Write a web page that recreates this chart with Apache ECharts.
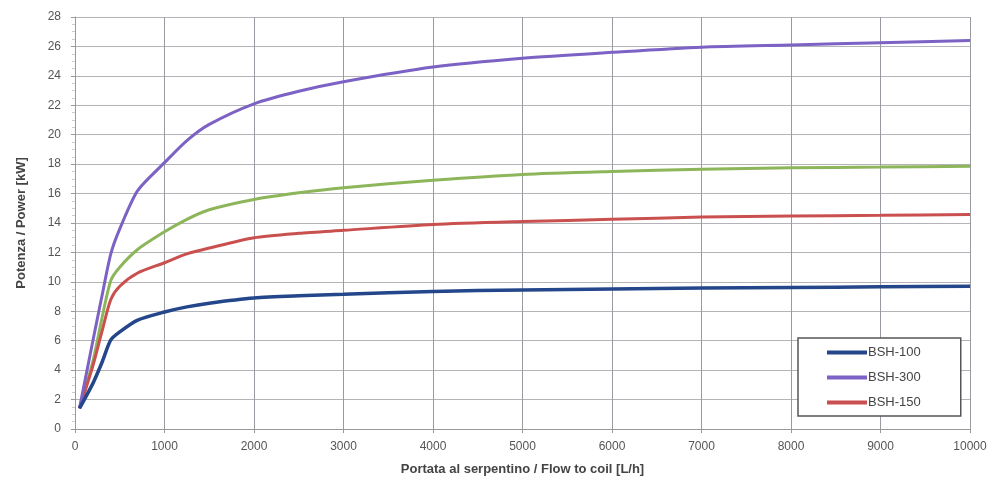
<!DOCTYPE html>
<html>
<head>
<meta charset="utf-8">
<script src="https://cdn.jsdelivr.net/npm/echarts@6/dist/echarts.min.js"></script>
<style>html,body{margin:0;padding:0;background:#fff;}#c{width:999px;height:498px;}</style>
</head>
<body>
<div id="c"></div>
<script>
var flow = [50, 200, 300, 400, 500, 700, 1000, 1250, 1500, 2000, 2500, 3000, 4000, 5000, 6000, 7000, 8000, 9000, 10000];
var bsh100 = [1.4, 3.1, 4.5, 6.05, 6.6, 7.4, 7.95, 8.3, 8.55, 8.9, 9.05, 9.15, 9.35, 9.45, 9.52, 9.58, 9.62, 9.66, 9.7];
var bsh300 = [1.4, 6.0, 9.0, 11.9, 13.6, 16.2, 18.1, 19.6, 20.7, 22.1, 22.95, 23.6, 24.6, 25.2, 25.6, 25.95, 26.1, 26.25, 26.4];
var bsh150 = [1.4, 4.3, 6.6, 8.8, 9.7, 10.6, 11.3, 11.9, 12.3, 13.0, 13.3, 13.5, 13.9, 14.1, 14.25, 14.4, 14.48, 14.52, 14.58];
var bsh200 = [1.4, 4.6, 7.5, 10.1, 11.0, 12.2, 13.4, 14.25, 14.9, 15.6, 16.05, 16.4, 16.9, 17.3, 17.5, 17.65, 17.75, 17.8, 17.85];
var yTicks = [0, 2, 4, 6, 8, 10, 12, 14, 16, 18, 20, 22, 24, 26, 28];
var xTicks = [0, 1000, 2000, 3000, 4000, 5000, 6000, 7000, 8000, 9000, 10000];

function pairs(ys) { return flow.map(function (x, i) { return [x, ys[i]]; }); }
var font = '"Liberation Sans Narrow", "Liberation Sans", Arial, sans-serif';

var chart = echarts.init(document.getElementById('c'), null, {renderer: 'canvas'});
chart.setOption({
  backgroundColor: '#ffffff',
  animation: false,
  textStyle: {fontFamily: font},
  grid: {left: 75, right: 29, top: 17, bottom: 69},
  legend: {
    data: ['BSH-100', 'BSH-300', 'BSH-150'],
    orient: 'vertical',
    left: 798, top: 338,
    width: 164,
    padding: [8, 40, 7, 29],
    itemGap: 12,
    itemWidth: 40, itemHeight: 4,
    icon: 'rect',
    borderColor: '#555', borderWidth: 1.5, borderRadius: 0,
    backgroundColor: '#fff',
    textStyle: {fontFamily: font, fontSize: 13, color: '#444', padding: [0, 0, 0, -4]}
  },
  xAxis: {
    type: 'value', min: 0, max: 10000, interval: 1000,
    name: 'Portata al serpentino / Flow to coil [L/h]',
    nameLocation: 'middle', nameGap: 34,
    nameTextStyle: {fontFamily: font, fontSize: 13, fontWeight: 'bold', color: '#444'},
    axisLine: {show: true, lineStyle: {color: '#999', width: 1}},
    axisTick: {show: true, length: 4, lineStyle: {color: '#999'}},
    axisLabel: {fontFamily: font, fontSize: 12, color: '#555', margin: 12,
      formatter: function (v) { return String(v); }},
    splitLine: {show: true, lineStyle: {color: '#9a9aa2', width: 1}}
  },
  yAxis: {
    type: 'value', min: 0, max: 28, interval: 2,
    name: 'Potenza / Power [kW]',
    nameLocation: 'middle', nameGap: 47,
    nameTextStyle: {fontFamily: font, fontSize: 13, fontWeight: 'bold', color: '#444'},
    axisLine: {show: true, lineStyle: {color: '#999', width: 1}},
    axisTick: {show: true, length: 4, lineStyle: {color: '#999'}},
    minorTick: {show: true, splitNumber: 4, length: 3, lineStyle: {color: '#ccc'}},
    axisLabel: {fontFamily: font, fontSize: 12, color: '#555', margin: 14},
    splitLine: {show: true, lineStyle: {color: '#b4b4b8', width: 1}}
  },
  series: [
    {name: 'BSH-200', type: 'line', data: pairs(bsh200), smooth: 0.25, showSymbol: false,
     lineStyle: {color: '#8db55a', width: 3}, itemStyle: {color: '#8db55a'}, z: 2},
    {name: 'BSH-150', type: 'line', data: pairs(bsh150), smooth: 0.25, showSymbol: false,
     lineStyle: {color: '#c9504f', width: 3}, itemStyle: {color: '#c9504f'}, z: 3},
    {name: 'BSH-300', type: 'line', data: pairs(bsh300), smooth: 0.25, showSymbol: false,
     lineStyle: {color: '#7c62c4', width: 3}, itemStyle: {color: '#7c62c4'}, z: 4},
    {name: 'BSH-100', type: 'line', data: pairs(bsh100), smooth: 0.25, showSymbol: false,
     lineStyle: {color: '#24468a', width: 3.5}, itemStyle: {color: '#24468a'}, z: 5}
  ]
});
</script>
</body>
</html>
